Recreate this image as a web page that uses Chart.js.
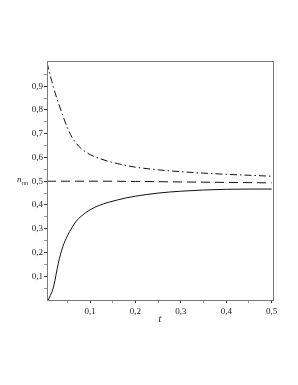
<!DOCTYPE html>
<html>
<head>
<meta charset="utf-8">
<script src="https://cdn.jsdelivr.net/npm/chart.js@4.4.1/dist/chart.umd.min.js"></script>
<style>
  html, body { margin: 0; padding: 0; background: #fff; }
  #wrap { width: 298px; height: 385px; }
</style>
</head>
<body>
<div id="wrap"><canvas id="chart" width="298" height="385"></canvas></div>
<script>
// values
const tValues = [0.005, 0.01, 0.015, 0.02, 0.03, 0.04, 0.05, 0.06, 0.07, 0.08, 0.1, 0.12, 0.14, 0.16, 0.18, 0.2, 0.25, 0.3, 0.35, 0.4, 0.45, 0.5];
const dashDotValues = [1.0, 0.96, 0.925, 0.89, 0.83, 0.775, 0.725, 0.685, 0.658, 0.638, 0.612, 0.596, 0.584, 0.574, 0.566, 0.559, 0.548, 0.54, 0.534, 0.529, 0.525, 0.521];
const dashedValues = [0.5, 0.5, 0.5, 0.5, 0.5, 0.5, 0.5, 0.5, 0.5, 0.5, 0.5, 0.5, 0.5, 0.5, 0.499, 0.499, 0.498, 0.497, 0.496, 0.495, 0.494, 0.493];
const solidT = [0.008, 0.01, 0.015, 0.02, 0.03, 0.04, 0.05, 0.06, 0.07, 0.08, 0.1, 0.12, 0.14, 0.16, 0.18, 0.2, 0.25, 0.3, 0.35, 0.4, 0.45, 0.5];
const solidValues = [0, 0.01, 0.03, 0.06, 0.155, 0.225, 0.27, 0.305, 0.333, 0.352, 0.38, 0.398, 0.411, 0.421, 0.43, 0.437, 0.45, 0.458, 0.463, 0.466, 0.467, 0.467];
const xTicks = [0.05, 0.1, 0.15, 0.2, 0.25, 0.3, 0.35, 0.4, 0.45, 0.5];
const yTicks = [0.05, 0.1, 0.15, 0.2, 0.25, 0.3, 0.35, 0.4, 0.45, 0.5, 0.55, 0.6, 0.65, 0.7, 0.75, 0.8, 0.85, 0.9, 0.95];

const serif = '"Liberation Serif", "DejaVu Serif", serif';

function toPoints(xs, ys) {
    return xs.map((x, i) => ({ x: x, y: ys[i] }));
}

function isMajor(v) {
    return Math.abs(v * 10 - Math.round(v * 10)) < 1e-6;
}

function commaLabel(v) {
    if (!isMajor(v)) return '';
    return v.toFixed(1).replace('.', ',');
}

// box around the plot and the axis titles
const framePlugin = {
    id: 'frame',
    afterDraw(chart) {
        const ctx = chart.ctx;
        const a = chart.chartArea;
        ctx.save();
        ctx.strokeStyle = '#7a7a7a';
        ctx.lineWidth = 1;
        ctx.strokeRect(Math.round(a.left) + 0.5, Math.round(a.top) + 0.5, Math.round(a.right - a.left), Math.round(a.bottom - a.top));

        ctx.fillStyle = '#222';
        ctx.textBaseline = 'alphabetic';
        ctx.textAlign = 'center';
        ctx.font = 'italic 10px ' + serif;
        ctx.fillText('t', (a.left + a.right) / 2, a.bottom + 22);

        const yMid = chart.scales.y.getPixelForValue(0.5);
        ctx.textAlign = 'left';
        ctx.font = 'italic 9px ' + serif;
        ctx.fillText('n', a.left - 30, yMid + 1);
        ctx.font = 'italic 6px ' + serif;
        ctx.fillText('nn', a.left - 25, yMid + 4);
        ctx.restore();
    }
};

const ctx = document.getElementById('chart').getContext('2d');
new Chart(ctx, {
    type: 'line',
    data: {
        datasets: [
            {
                label: 'dash-dot',
                data: toPoints(tValues, dashDotValues),
                borderColor: '#111',
                borderWidth: 1,
                borderDash: [7, 3, 1.5, 3],
                pointRadius: 0,
                cubicInterpolationMode: 'monotone',
                fill: false
            },
            {
                label: 'dashed',
                data: toPoints(tValues, dashedValues),
                borderColor: '#111',
                borderWidth: 1,
                borderDash: [9, 5],
                pointRadius: 0,
                cubicInterpolationMode: 'monotone',
                fill: false
            },
            {
                label: 'solid',
                data: toPoints(solidT, solidValues),
                borderColor: '#111',
                borderWidth: 1,
                pointRadius: 0,
                cubicInterpolationMode: 'monotone',
                fill: false
            }
        ]
    },
    options: {
        responsive: false,
        animation: false,
        events: [],
        layout: { padding: { left: 0, top: 61, right: 25, bottom: 64 } },
        plugins: {
            legend: { display: false },
            tooltip: { enabled: false }
        },
        scales: {
            x: {
                type: 'linear',
                min: 0.005,
                max: 0.503,
                afterBuildTicks: axis => { axis.ticks = xTicks.map(v => ({ value: v })); },
                afterFit: axis => { axis.height = 21; },
                border: { display: false },
                grid: {
                    drawOnChartArea: false,
                    drawTicks: true,
                    tickLength: 3,
                    tickColor: c => isMajor(c.tick.value) ? '#333' : '#999'
                },
                ticks: {
                    autoSkip: false,
                    maxRotation: 0,
                    padding: 3,
                    color: '#222',
                    font: { family: serif, size: 9 },
                    callback: v => commaLabel(v)
                }
            },
            y: {
                type: 'linear',
                min: 0,
                max: 1.006,
                afterBuildTicks: axis => { axis.ticks = yTicks.map(v => ({ value: v })); },
                afterFit: axis => { axis.width = 47; },
                border: { display: false },
                grid: {
                    drawOnChartArea: false,
                    drawTicks: true,
                    tickLength: 3,
                    tickColor: c => isMajor(c.tick.value) ? '#333' : '#999'
                },
                ticks: {
                    autoSkip: false,
                    padding: 1,
                    color: '#222',
                    font: { family: serif, size: 9 },
                    callback: v => commaLabel(v)
                }
            }
        }
    },
    plugins: [framePlugin]
});
</script>
</body>
</html>
